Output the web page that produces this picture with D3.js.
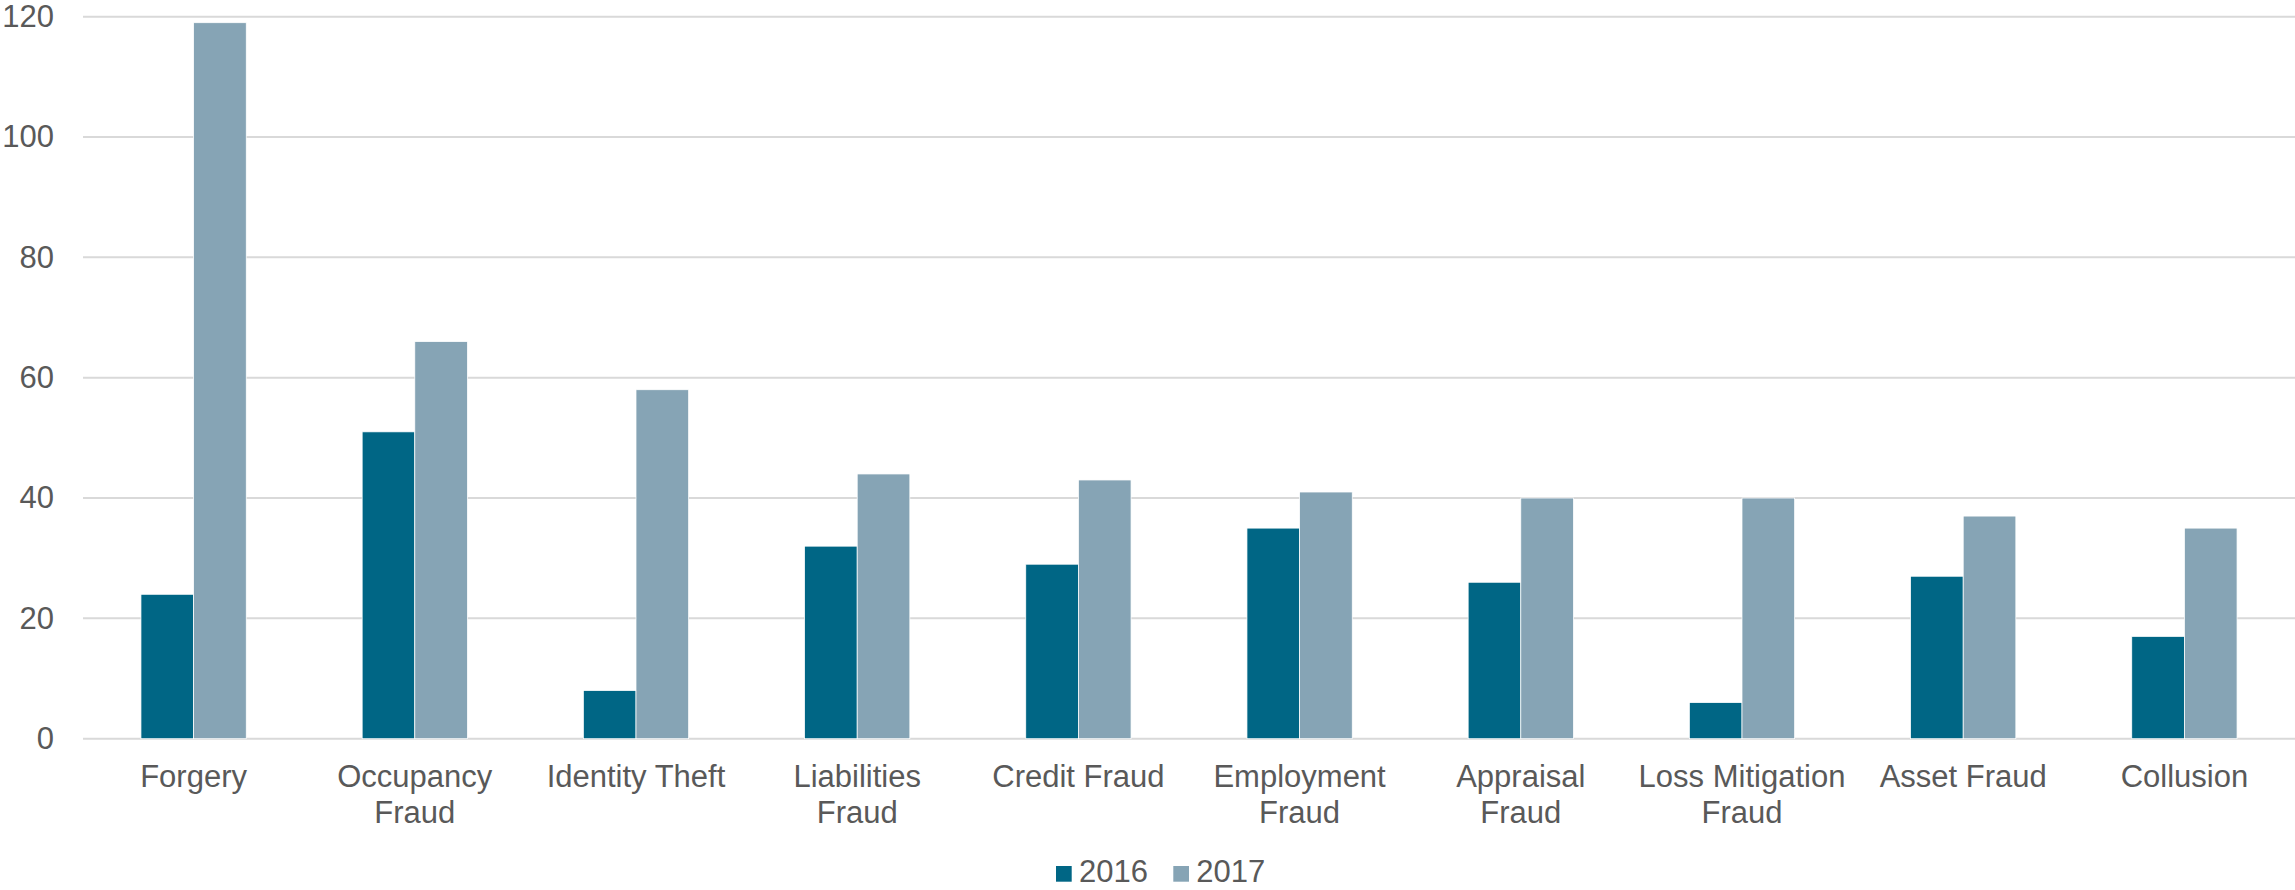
<!DOCTYPE html>
<html>
<head>
<meta charset="utf-8">
<script src="https://cdn.jsdelivr.net/npm/d3@7"></script>
<style>
  html, body { margin: 0; padding: 0; background: #ffffff; }
  svg { display: block; }
  text { font-family: "Liberation Sans", Arial, sans-serif; fill: #595959; }
</style>
</head>
<body>
<svg id="chart" width="2295" height="890"></svg>
<script>
const categories = ["Forgery", "Occupancy\nFraud", "Identity Theft", "Liabilities\nFraud", "Credit Fraud",
  "Employment\nFraud", "Appraisal\nFraud", "Loss Mitigation\nFraud", "Asset Fraud", "Collusion"];
const seriesNames = ["2016", "2017"];
const values2016 = [24, 51, 8, 32, 29, 35, 26, 6, 27, 17];
const values2017 = [119, 66, 58, 44, 43, 41, 40, 40, 37, 35];
const yTicks = [0, 20, 40, 60, 80, 100, 120];
const colors = ["#006685", "#86a4b5"];

const seriesValues = [values2016, values2017];
const W = 2295, H = 890;
const FS = 31;
const margin = { left: 83, right: 0, top: 16.7, bottom: 151.3 };
const svg = d3.select("#chart");

const x = d3.scaleBand().domain(categories).range([margin.left, W - margin.right])
  .paddingInner(0.524).paddingOuter(0.262);
const xs = d3.scaleBand().domain(seriesNames).range([0, x.bandwidth()]);
const y = d3.scaleLinear().domain([0, 120]).range([H - margin.bottom, margin.top]);

// gridlines
svg.append("g").selectAll("line").data(yTicks).join("line")
  .attr("x1", margin.left).attr("x2", W - margin.right)
  .attr("y1", d => y(d)).attr("y2", d => y(d))
  .attr("stroke", "#d9d9d9").attr("stroke-width", 2);

// y axis labels
const yAxis = d3.axisLeft(y).tickValues(yTicks).tickSize(0).tickPadding(29);
const gy = svg.append("g").attr("transform", `translate(${margin.left},0)`).call(yAxis);
gy.select(".domain").remove();
gy.selectAll("text").attr("font-size", FS).attr("fill", "#595959")
  .style("font-family", "'Liberation Sans', Arial, sans-serif");

// bars
const groups = svg.append("g").selectAll("g").data(categories).join("g")
  .attr("transform", d => `translate(${x(d)},0)`);
groups.selectAll("rect")
  .data((d, i) => seriesNames.map((s, j) => ({ s, v: seriesValues[j][i], j })))
  .join("rect")
  .attr("x", d => xs(d.s))
  .attr("width", xs.bandwidth())
  .attr("y", d => y(d.v))
  .attr("height", d => y(0) - y(d.v))
  .attr("fill", d => colors[d.j])
  .attr("stroke", "#ffffff").attr("stroke-width", 0.75);

// x axis labels
const xl = svg.append("g");
categories.forEach(c => {
  const lines = c.split("\n");
  const t = xl.append("text").attr("text-anchor", "middle")
    .attr("x", x(c) + x.bandwidth() / 2)
    .attr("font-size", FS);
  lines.forEach((ln, k) => {
    t.append("tspan").attr("x", x(c) + x.bandwidth() / 2)
      .attr("y", 786.5 + k * 36.5).text(ln);
  });
});

// legend
const legend = svg.append("g");
const legendX = [1056, 1173.3];
seriesNames.forEach((s, j) => {
  legend.append("rect").attr("x", legendX[j]).attr("y", 866).attr("width", 15.7).attr("height", 15.7)
    .attr("fill", colors[j]);
  legend.append("text").attr("x", legendX[j] + 23).attr("y", 882)
    .attr("font-size", FS).text(s);
});
</script>
</body>
</html>
